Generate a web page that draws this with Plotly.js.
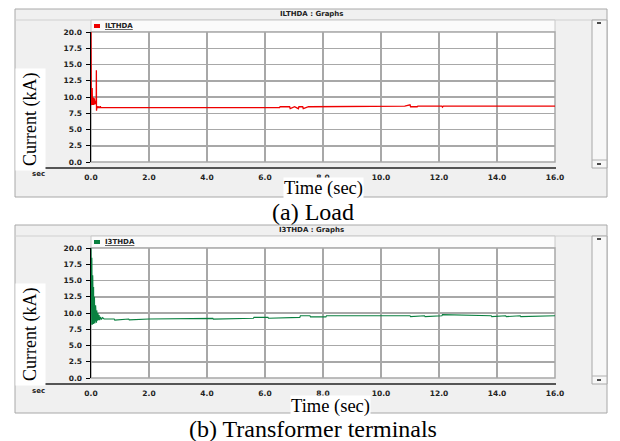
<!DOCTYPE html>
<html><head><meta charset="utf-8">
<script src="https://cdn.plot.ly/plotly-3.0.1.min.js"></script>
<style>html,body{margin:0;padding:0;background:#fff}#chart{width:620px;height:441px}</style>
</head><body><div id="chart"></div>
<script>
// ---- data ----
const xTicks = [0, 2, 4, 6, 8, 10, 12, 14, 16];
const yTicks = [0, 2.5, 5, 7.5, 10, 12.5, 15, 17.5, 20];
const panelTitles = ['ILTHDA : Graphs', 'I3THDA : Graphs'];
const seriesNames = ['ILTHDA', 'I3THDA'];
const captions = ['(a) Load', '(b) Transformer terminals'];
const yLabel = 'Current (kA)';
const xLabel = 'Time (sec)';

const loadTime = [0, 0.005, 0.01, 0.02, 0.03, 0.04, 0.05, 0.06, 0.07, 0.08, 0.09, 0.10, 0.11, 0.12, 0.13, 0.14, 0.15, 0.16, 0.17, 0.18, 0.185, 0.19, 0.20, 0.22, 0.24, 0.26, 0.28, 0.30, 0.32, 0.34, 0.36,
  1.0, 2.0, 3.0, 4.0, 5.0, 5.9, 5.92, 5.95, 6.5, 6.52, 6.85, 6.87, 7.0, 7.02, 7.15, 7.17, 7.3, 7.32, 7.5, 9.2, 9.22, 9.25, 10.8, 10.82, 11.0, 11.02, 11.25, 11.27, 12.1, 12.12, 12.15, 14.0, 16.0];
const loadCurrent = [20, 20, 8.8, 9.8, 8.9, 11.4, 8.8, 10.6, 9.0, 9.9, 8.8, 9.6, 9.0, 9.8, 8.9, 9.5, 9.0, 9.4, 9.0, 8.9, 14.1, 7.9, 8.4, 8.3, 8.6, 8.3, 8.5, 8.3, 8.6, 8.35, 8.35,
  8.35, 8.35, 8.35, 8.35, 8.35, 8.35, 8.45, 8.35, 8.35, 8.5, 8.5, 8.2, 8.5, 8.5, 8.2, 8.5, 8.5, 8.2, 8.5, 8.5, 8.6, 8.5, 8.5, 8.6, 8.8, 8.5, 8.5, 8.6, 8.6, 8.45, 8.6, 8.6, 8.6];

const trafoTime = [0, 0.005, 0.01, 0.015, 0.02, 0.025, 0.03, 0.035, 0.04, 0.045, 0.05, 0.055, 0.06, 0.065, 0.07, 0.075, 0.08, 0.085, 0.09, 0.095, 0.10, 0.11, 0.12, 0.13, 0.14, 0.15, 0.16, 0.17, 0.18, 0.19, 0.20, 0.22, 0.24, 0.26, 0.28, 0.30, 0.33, 0.36, 0.40, 0.45,
  0.8, 0.82, 1.3, 1.32, 2.0, 3.05, 3.07, 4.2, 4.22, 5.6, 5.62, 6.1, 6.12, 7.2, 7.22, 7.55, 7.57, 8.1, 8.12, 9.2, 11.0, 11.02, 11.5, 11.52, 12.1, 12.12, 13.8, 13.82, 14.3, 14.32, 14.8, 14.82, 16.0];
const trafoCurrent = [20, 8.2, 20, 8.3, 19.5, 8.2, 18.5, 8.4, 17.5, 8.2, 16.5, 8.5, 15.8, 8.3, 15.2, 8.6, 14.8, 8.3, 14.0, 8.5, 13.3, 8.6, 12.5, 8.4, 11.8, 8.8, 11.2, 8.6, 10.7, 8.5, 10.4, 8.8, 10.0, 8.9, 9.7, 8.9, 9.4, 9.0, 9.3, 9.08,
  9.08, 8.9, 9.08, 8.95, 9.08, 9.08, 9.18, 9.18, 9.05, 9.18, 9.32, 9.32, 9.2, 9.32, 9.58, 9.58, 9.4, 9.4, 9.58, 9.58, 9.58, 9.45, 9.58, 9.45, 9.58, 9.75, 9.58, 9.45, 9.58, 9.45, 9.58, 9.45, 9.58];

// ---- layout helpers (pixel -> paper) ----
const W = 620, H = 441;
const X = p => p / W;
const Y = p => 1 - p / H;

const panels = [
  {top: 9, bottom: 197, titleY: 14, strip: 20, plotTop: 32, plotBottom: 162, axisY: 168, timeY: 188, timeX: 323, capY: 212, secY: 174, curY: 120, color: '#ee0000'},
  {top: 225, bottom: 413, titleY: 230, strip: 236, plotTop: 248, plotBottom: 378, axisY: 384, timeY: 406, timeX: 331, capY: 429, secY: 391, curY: 335, color: '#0a8040'}
];
const plotL = 91, plotR = 555;

const shapes = [], annotations = [];
const tickFont = {family: 'DejaVu Sans', size: 7.5, color: '#222', weight: 'bold'};
const smallFont = {family: 'DejaVu Sans', size: 7, color: '#222', weight: 'bold'};

panels.forEach((p, i) => {
  const paperRect = (x0, x1, y0, y1, fill, line, layer) => shapes.push({type: 'rect', xref: 'paper', yref: 'paper', layer: layer || 'below', x0: X(x0), x1: X(x1), y0: Y(y1), y1: Y(y0), fillcolor: fill, line: line});
  const paperLine = (x0, x1, y0, y1, color, width, layer) => shapes.push({type: 'line', xref: 'paper', yref: 'paper', layer: layer || 'below', x0: X(x0), x1: X(x1), y0: Y(y0), y1: Y(y1), line: {color: color, width: width}});
  // gray frame
  paperRect(15, 607, p.top, p.bottom, '#f0f0f0', {color: '#a8a8a8', width: 1});
  // title bar line
  paperLine(15, 607, p.strip, p.strip, '#d0d0d0', 1);
  // legend strip
  paperRect(plotL, plotR, p.strip, p.plotTop, '#fbfbfb', {color: '#c8c8c8', width: 1});
  // plot area
  paperRect(plotL, plotR, p.plotTop, p.plotBottom, '#ffffff', {color: '#a8a8a8', width: 1.5});
  // scrollbar
  paperRect(592, 607, p.strip, p.strip + 148, '#f7f7f7', {color: '#a8a8a8', width: 1});
  paperLine(592, 607, p.strip + 140, p.strip + 140, '#b0b0b0', 1);
  paperLine(597, 601, p.strip + 3, p.strip + 3, '#111', 1.5);
  paperLine(597, 601, p.strip + 144, p.strip + 144, '#111', 1.5);
  // x axis line
  paperLine(40, plotR + 1, p.axisY, p.axisY, '#222', 1.3, 'above');
  // legend marker
  paperRect(94, 100, p.strip + 4, p.strip + 8, p.color, {width: 0}, 'above');

  annotations.push({xref: 'paper', yref: 'paper', x: X(312), y: Y(p.titleY), text: panelTitles[i], showarrow: false, font: smallFont, xanchor: 'center', yanchor: 'middle'});
  annotations.push({xref: 'paper', yref: 'paper', x: X(103), y: Y(p.strip + 6), text: '<u>' + seriesNames[i] + '</u>', showarrow: false, font: smallFont, xanchor: 'left', yanchor: 'middle'});
  annotations.push({xref: 'paper', yref: 'paper', x: X(38), y: Y(p.secY), text: 'sec', showarrow: false, font: smallFont, xanchor: 'center', yanchor: 'middle'});
  annotations.push({xref: 'paper', yref: 'paper', x: X(30), y: Y(p.curY), text: yLabel, textangle: -90, showarrow: false, bgcolor: '#ffffff', borderpad: 4, font: {family: 'Liberation Serif', size: 18, color: '#000'}, xanchor: 'center', yanchor: 'middle'});
  annotations.push({xref: 'paper', yref: 'paper', x: X(p.timeX), y: Y(p.timeY), text: xLabel, showarrow: false, bgcolor: '#ffffff', borderpad: 0, font: {family: 'Liberation Serif', size: 18.5, color: '#000'}, xanchor: 'center', yanchor: 'middle'});
  annotations.push({xref: 'paper', yref: 'paper', x: X(313), y: Y(p.capY), text: captions[i], showarrow: false, font: {family: 'Liberation Serif', size: 24, color: '#000'}, xanchor: 'center', yanchor: 'middle'});
});

function xAxis(anchor) {
  return {domain: [X(plotL), X(plotR)], anchor: anchor, range: [0, 16], tickvals: xTicks, tickformat: '.1f',
    showgrid: true, gridcolor: '#a8a8a8', gridwidth: 1.5, zeroline: false, showline: false, ticks: '',
    tickfont: tickFont, ticklabelstandoff: 9, fixedrange: true};
}
function yAxis(anchor, p) {
  return {domain: [Y(p.plotBottom), Y(p.plotTop)], anchor: anchor, range: [0, 20], tickvals: yTicks, tickformat: '.1f',
    showgrid: true, gridcolor: '#a8a8a8', gridwidth: 1.5, zeroline: false, showline: true, linecolor: '#000', linewidth: 1.5,
    ticks: 'outside', ticklen: 4, tickcolor: '#000', tickwidth: 1, tickfont: tickFont, ticklabelstandoff: 2, fixedrange: true};
}

const data = [
  {x: loadTime, y: loadCurrent, xaxis: 'x', yaxis: 'y', type: 'scatter', mode: 'lines', line: {color: panels[0].color, width: 1.3}, name: seriesNames[0]},
  {x: trafoTime, y: trafoCurrent, xaxis: 'x2', yaxis: 'y2', type: 'scatter', mode: 'lines', line: {color: panels[1].color, width: 1.1}, name: seriesNames[1]}
];

const layout = {
  width: W, height: H, autosize: false, margin: {l: 0, r: 0, t: 0, b: 0},
  paper_bgcolor: '#ffffff', plot_bgcolor: 'rgba(0,0,0,0)', showlegend: false,
  xaxis: xAxis('y'), yaxis: yAxis('x', panels[0]),
  xaxis2: xAxis('y2'), yaxis2: yAxis('x2', panels[1]),
  shapes: shapes, annotations: annotations
};

Plotly.newPlot('chart', data, layout, {displayModeBar: false, staticPlot: true});
</script></body></html>
